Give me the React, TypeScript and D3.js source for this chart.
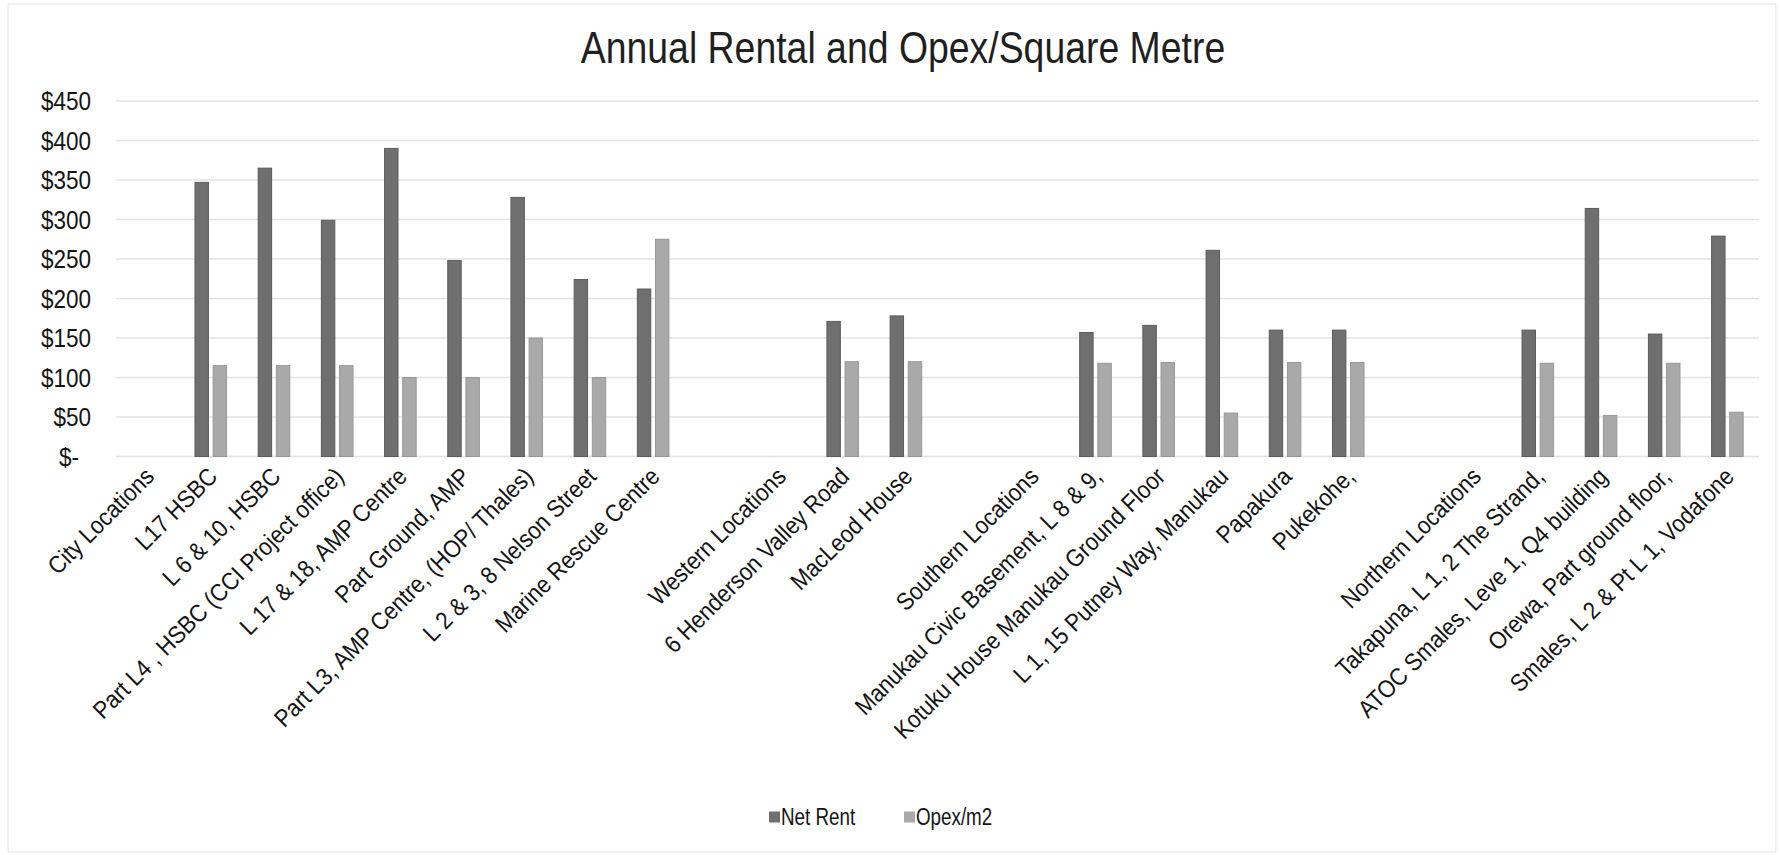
import { scaleBand, scaleLinear } from "d3";

const categories = [
  "City Locations",
  "L17  HSBC",
  "L 6 & 10, HSBC",
  "Part L4 , HSBC (CCI Project office)",
  "L 17 & 18, AMP Centre",
  "Part Ground, AMP",
  "Part L3, AMP Centre, (HOP/ Thales)",
  "L 2 & 3, 8 Nelson Street",
  "Marine Rescue Centre",
  "",
  "Western Locations",
  "6 Henderson Valley Road",
  "MacLeod House",
  "",
  "Southern Locations",
  "Manukau Civic Basement, L 8 & 9,",
  "Kotuku House Manukau Ground Floor",
  "L 1, 15 Putney Way, Manukau",
  "Papakura",
  "Pukekohe,",
  "",
  "Northern Locations",
  "Takapuna, L 1, 2 The Strand,",
  "ATOC Smales,  Leve 1, Q4 building",
  "Orewa, Part ground floor,",
  "Smales, L 2 & Pt L 1, Vodafone",
];

const netRent = [
  null, 347, 365, 299, 390, 248, 328, 224, 212, null, null, 171, 178, null,
  null, 157, 166, 261, 160, 160, null, null, 160, 314, 155, 279,
];

const opex = [
  null, 115, 115, 115, 100, 100, 150, 100, 275, null, null, 120, 120, null,
  null, 118, 119, 55, 119, 119, null, null, 118, 52, 118, 56,
];

const seriesNames = ["Net Rent", "Opex/m2"];
const seriesColors = ["#6f6f6f", "#a9a9a9"];
const seriesStroke = ["#5c5c5c", "#979797"];

const W = 1780;
const H = 855;
const FONT = "'Liberation Sans', Arial, Helvetica, sans-serif";
// the scanned chart is squeezed sideways, so text is drawn a bit narrow
const SX = 0.85;

function App() {
  const x = scaleBand<number>()
    .domain(categories.map((_, i) => i))
    .range([116, 1759]);
  const bw = x.bandwidth();
  const sub = scaleBand<number>()
    .domain([0, 1])
    .range([bw * 0.25, bw * 0.75])
    .paddingInner(0.26);
  const y = scaleLinear().domain([0, 450]).range([456.5, 101]);
  const ticks = y.ticks(9);
  const series = [netRent, opex];

  const fmt = (v: number) => (v === 0 ? "$-" : `$${v}`);

  return (
    <svg
      width={W}
      height={H}
      style={{ position: "absolute", left: 0, top: 0, background: "#fff" }}
      fontFamily={FONT}
    >
      <rect x={8} y={4} width={1768} height={848} fill="#fff" stroke="#e6e6e6" />
      <text
        transform={`translate(903,63) scale(${SX},1)`}
        textAnchor="middle"
        fontSize={44}
        fill="#1f1f1f"
      >
        Annual Rental and Opex/Square Metre
      </text>

      {ticks.map((t) => (
        <g key={t}>
          <line
            x1={x.range()[0]}
            x2={x.range()[1]}
            y1={y(t)}
            y2={y(t)}
            stroke="#e3e3e3"
            strokeWidth={1.5}
          />
          <text
            transform={`translate(${t === 0 ? 79 : 91},${y(t)}) scale(${SX},1)`}
            dy="0.35em"
            textAnchor="end"
            fontSize={26.5}
            fill="#141414"
          >
            {fmt(t)}
          </text>
        </g>
      ))}

      {series.map((vals, s) => (
        <g key={s}>
          {vals.map((v, i) =>
            v == null ? null : (
              <rect
                key={i}
                x={(x(i) ?? 0) + (sub(s) ?? 0)}
                y={y(v)}
                width={sub.bandwidth()}
                height={y(0) - y(v)}
                fill={seriesColors[s]}
                stroke={seriesStroke[s]}
                strokeWidth={1}
              />
            )
          )}
        </g>
      ))}

      {categories.map((c, i) => (
        <text
          key={i}
          transform={`translate(${(x(i) ?? 0) + bw / 2 + 8},478) rotate(-45) scale(0.9,1)`}
          textAnchor="end"
          fontSize={24.5}
          fill="#141414"
        >
          {c}
        </text>
      ))}

      {seriesNames.map((n, s) => (
        <g key={n} transform={`translate(${s === 0 ? 769 : 904},817)`}>
          <rect x={0} y={-5.5} width={11} height={11} fill={seriesColors[s]} />
          <text
            transform={`translate(12,0) scale(0.8,1)`}
            dy="0.35em"
            fontSize={23.5}
            fill="#141414"
          >
            {n}
          </text>
        </g>
      ))}
    </svg>
  );
}

export default App;
